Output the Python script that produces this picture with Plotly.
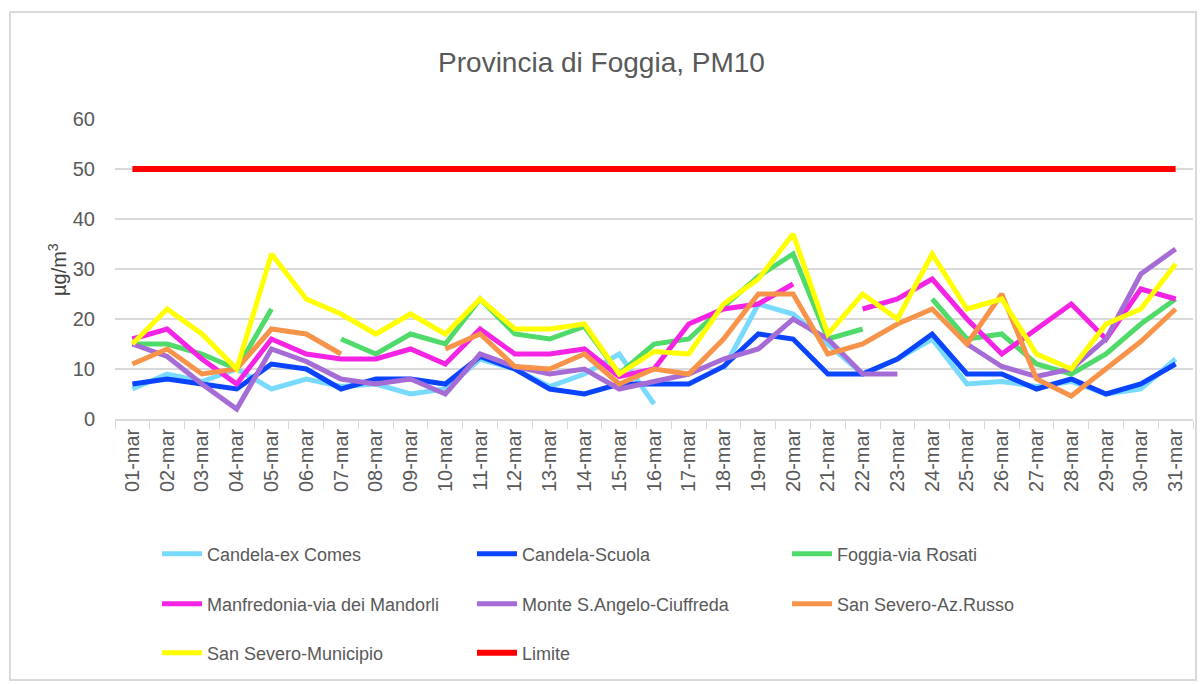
import plotly.graph_objects as go

days = [f"{d:02d}-mar" for d in range(1, 32)]

candela_ex_comes = [6, 9, 7.5, 10, 6, 8, 6.5, 7, 5, 6, 12, 10, 6.5, 9, 13, 3, None, 10, 23, 21,
                    15, 9, 12, 16, 7, 7.5, 6.5, 7.5, 5, 6, 12]
candela_scuola = [7, 8, 7, 6, 11, 10, 6, 8, 8, 7, 12.5, 10, 6, 5, 7, 7, 7, 10.5, 17, 16,
                  9, 9, 12, 17, 9, 9, 6, 8, 5, 7, 11]
foggia_rosati = [15, 15, 13, 10, 22, None, 16, 13, 17, 15, 24, 17, 16, 18.5, 9, 15, 16, 22.5, 28.5, 33,
                 16, 18, None, 24, 16, 17, 11, 9, 13, 19, 24]
manfredonia = [16, 18, 12, 7, 16, 13, 12, 12, 14, 11, 18, 13, 13, 14, 8.5, 10, 19, 22, 23, 27,
               None, 22, 24, 28, 20, 13, 18, 23, 16, 26, 24]
monte_sangelo = [15, 12.5, 7, 2, 14, 11.5, 8, 7, 8, 5, 13, 10.5, 9, 10, 6, 7.5, 9, 12, 14, 20,
                 16, 9, 9, None, 15, 10.5, 8.5, 10, 16, 29, 34]
san_severo_russo = [11, 14, 9, 10, 18, 17, 13, None, None, 14, 17, 10.5, 10, 13, 7, 10, 9, 16, 25, 25,
                    13, 15, 19, 22, 15, 25, 8, 4.6, 10, 15.5, 22]
san_severo_mun = [15, 22, 17, 10, 33, 24, 21, 17, 21, 17, 24, 18, 18, 19, 9, 13.5, 13, 23, 28, 37,
                  17, 25, 20, 33, 22, 24, 13, 10, 19, 22, 31]
limite = [50] * 31

series = [
    ("Candela-ex Comes", candela_ex_comes, "#78DAFF", "legend"),
    ("Candela-Scuola", candela_scuola, "#0A44FF", "legend"),
    ("Foggia-via Rosati", foggia_rosati, "#4FDA6A", "legend"),
    ("Manfredonia-via dei Mandorli", manfredonia, "#F523E3", "legend2"),
    ("Monte S.Angelo-Ciuffreda", monte_sangelo, "#A66CD6", "legend2"),
    ("San Severo-Az.Russo", san_severo_russo, "#F7944A", "legend2"),
    ("San Severo-Municipio", san_severo_mun, "#FFFF00", "legend3"),
]

FONT = "Liberation Sans"
GRAY = "#595959"

fig = go.Figure()
for name, vals, color, lg in series:
    fig.add_trace(go.Scatter(x=days, y=vals, name=name, mode="lines",
                             line=dict(color=color, width=5), connectgaps=False,
                             legend=lg))
fig.add_trace(go.Scatter(x=days, y=limite, name="Limite", mode="lines",
                         line=dict(color="#FF0000", width=6), legend="legend3"))

# plot area: x 115..1193, y 119..419
L, R, T, B = 115, 1193, 119, 419
W, H = R - L, B - T

def px(x):
    return (x - L) / W

def py(y):
    return (B - y) / H

legend_common = dict(orientation="h", xanchor="left", yanchor="middle",
                     font=dict(family=FONT, size=18, color=GRAY),
                     entrywidth=260, entrywidthmode="pixels",
                     bgcolor="rgba(0,0,0,0)", itemwidth=40)

fig.update_layout(
    width=1203, height=684,
    margin=dict(l=L, r=1203 - R, t=T, b=684 - B),
    paper_bgcolor="white", plot_bgcolor="white",
    font=dict(family=FONT, color=GRAY),
    title=dict(text="Provincia di Foggia, PM10", x=0.5, xanchor="center",
               y=1 - 62 / 684, yanchor="middle", yref="container",
               font=dict(family=FONT, size=28, color=GRAY)),
    showlegend=True,
    legend=dict(x=px(157), y=py(554), **legend_common),
    legend2=dict(x=px(157), y=py(604), **legend_common),
    legend3=dict(x=px(157), y=py(653), **legend_common),
    xaxis=dict(type="category", showgrid=False, tickangle=-90,
               ticks="outside", tickson="boundaries", ticklen=8, tickcolor="#D9D9D9",
               showline=True, linecolor="#D9D9D9", linewidth=1.5,
               tickfont=dict(family=FONT, size=20, color=GRAY),
               range=[-0.5, 30.5]),
    yaxis=dict(range=[0, 60], dtick=10, showgrid=True, gridcolor="#D9D9D9", gridwidth=1.5,
               zeroline=False, showline=False, ticks="",
               ticklabelstandoff=19,
               tickfont=dict(family=FONT, size=20, color=GRAY)),
    annotations=[dict(text="µg/m<sup>3</sup>", textangle=-90, x=px(57), y=py(270),
                      xref="paper", yref="paper", xanchor="center", yanchor="middle",
                      showarrow=False,
                      font=dict(family=FONT, size=20, color="#404040"))],
    shapes=[dict(type="rect", xref="paper", yref="paper",
                 x0=px(10), x1=px(1196), y0=py(680), y1=py(12),
                 line=dict(color="#D9D9D9", width=2), fillcolor="rgba(0,0,0,0)",
                 layer="below")],
)

fig.write_html("out.html", config={"displayModeBar": False},
               post_script="document.body.style.margin='0';document.body.style.overflow='hidden';")
